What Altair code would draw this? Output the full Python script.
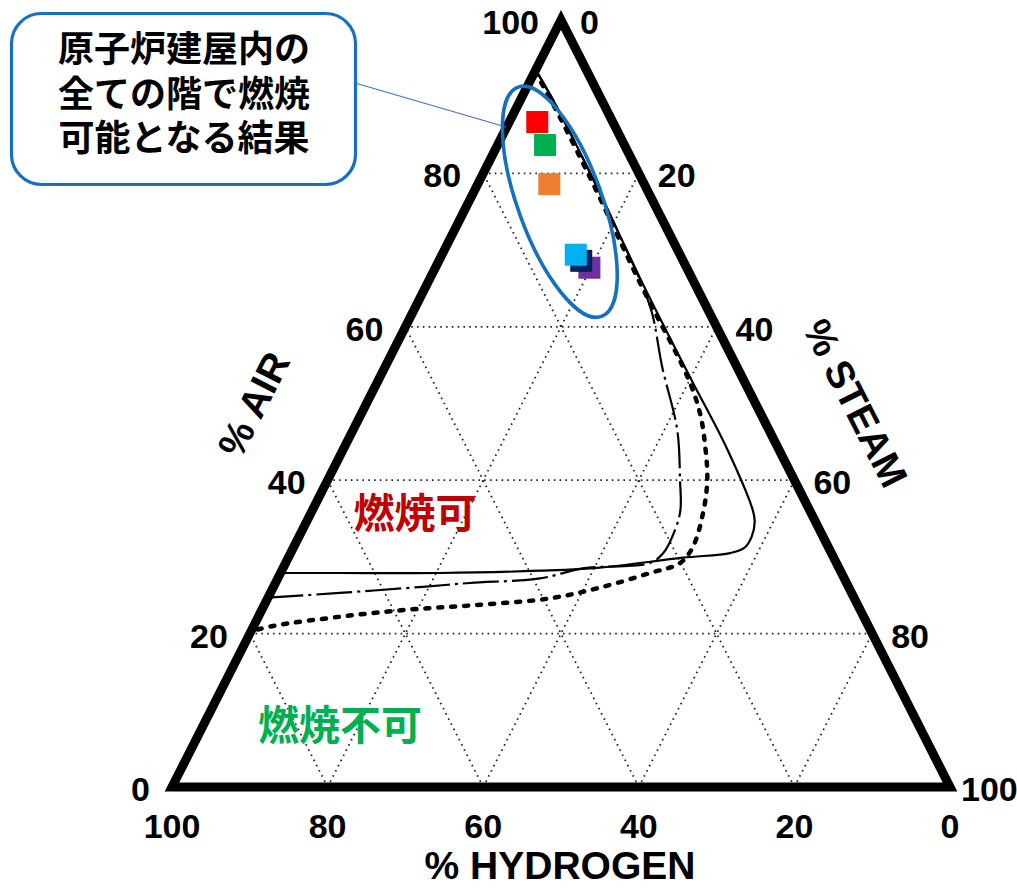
import altair as alt
import pandas as pd

# ---------------- values ----------------
# tick percentages on each side of the ternary diagram
tick_values = [0, 20, 40, 60, 80, 100]
grid_values = [20, 40, 60, 80]

# flammability boundaries as (hydrogen %, air %); steam = 100 - hydrogen - air
solid_h = [6.5, 6.2, 6.2, 6.3, 6.5, 6.7, 6.7, 6.6, 7.3, 7.8, 9.2, 10.8, 13.0, 19.4, 30.7, 38.6, 51.6, 64.5, 72.1]
solid_a = [93.5, 88.7, 82.0, 76.9, 71.7, 64.8, 53.5, 44.3, 36.1, 34.6, 32.6, 31.2, 30.5, 29.9, 28.6, 28.2, 27.9, 27.9, 27.9]

dashdot_h = [6.5, 6.2, 6.2, 6.3, 6.5, 6.8, 7.4, 9.6, 11.8, 14.7, 16.6, 18.6, 21.6, 24.0, 32.9, 39.1, 48.4, 54.7, 65.8, 75.3]
dashdot_a = [93.5, 88.7, 82.0, 76.9, 71.7, 66.1, 61.8, 54.8, 46.5, 40.0, 36.1, 33.5, 30.5, 29.2, 28.5, 27.2, 26.6, 26.1, 25.3, 24.7]

dashed_h = [6.7, 6.5, 6.5, 6.6, 6.8, 7.0, 7.0, 7.75, 9.3, 11.2, 13.9, 17.4, 20.1, 24.6, 32.0, 39.1, 49.4, 58.3, 67.3, 76.5, 79.7]
dashed_a = [93.3, 88.7, 82.0, 76.9, 71.7, 64.8, 53.5, 48.8, 44.3, 40.0, 35.7, 31.3, 29.2, 27.9, 26.0, 24.6, 23.7, 23.1, 22.2, 21.0, 20.3]

# compositions evaluated for each floor (drawn in this order)
point_keys = ["a", "b", "c", "d", "e", "f"]
point_h = [9.7, 10.2, 12.2, 12.5, 13.1, 13.4]
point_a = [86.7, 83.7, 78.6, 67.7, 68.6, 69.4]
point_colors = ["#FF0000", "#00B050", "#ED7D31", "#7030A0", "#002060", "#00B0F0"]

# centre of the highlighted group
group_h = [12.0]
group_a = [76.3]

callout_lines = ["原子炉建屋内の", "全ての階で燃焼", "可能となる結果"]

# ---------------- helpers ----------------
LATIN = "Liberation Sans"
CJK = "Noto Sans CJK JP"
BLUE = "#1570C2"


def to_uv(h, a):
    """Ternary (hydrogen, air, steam) -> cartesian (u along base, v = air)."""
    s = 100 - h - a
    return s + a / 2.0, a


XS = alt.Scale(domain=[-22.108, 108.612], nice=False, zero=False)
YS = alt.Scale(domain=[-13.299, 102.608], nice=False, zero=False)


def X(f):
    return alt.X(f, type="quantitative", scale=XS, axis=None)


def Y(f):
    return alt.Y(f, type="quantitative", scale=YS, axis=None)


def curve_df(hs, as_):
    rows = []
    for i, (h, a) in enumerate(zip(hs, as_)):
        u, v = to_uv(h, a)
        rows.append({"i": i, "u": u, "v": v})
    return pd.DataFrame(rows)


one = pd.DataFrame({"k": [0]})

# ---------------- grid ----------------
grid_rows = []
for k in grid_values:
    # constant air
    grid_rows.append((to_uv(100 - k, k), to_uv(0, k)))
    # constant hydrogen
    grid_rows.append((to_uv(k, 0), to_uv(k, 100 - k)))
    # constant steam
    grid_rows.append((to_uv(100 - k, 0), to_uv(0, 100 - k)))
grid_df = pd.DataFrame(
    [{"u0": p[0], "v0": p[1], "u1": q[0], "v1": q[1]} for p, q in grid_rows]
)
grid = alt.Chart(grid_df).mark_rule(
    color="#222222", strokeWidth=1.8, strokeDash=[1.6, 4.2], strokeCap="butt"
).encode(x=X("u0"), y=Y("v0"), x2="u1", y2="v1")

# ---------------- triangle frame ----------------
frame_h = [100, 0, 0, 100, 0]
frame_a = [0, 0, 100, 0, 0]
frame = alt.Chart(curve_df(frame_h, frame_a)).mark_line(
    color="black", strokeWidth=9, strokeJoin="miter", strokeMiterLimit=10
).encode(x=X("u"), y=Y("v"), order="i:Q")

# ---------------- boundary curves ----------------
solid = alt.Chart(curve_df(solid_h, solid_a)).mark_line(
    color="black", strokeWidth=2.2, interpolate="catmull-rom"
).encode(x=X("u"), y=Y("v"), order="i:Q")

dashdot = alt.Chart(curve_df(dashdot_h, dashdot_a)).mark_line(
    color="black", strokeWidth=2.2, interpolate="catmull-rom",
    strokeDash=[36, 5, 3, 5]
).encode(x=X("u"), y=Y("v"), order="i:Q")

dashed = alt.Chart(curve_df(dashed_h, dashed_a)).mark_line(
    color="black", strokeWidth=4.5, interpolate="catmull-rom",
    strokeDash=[4, 9], strokeCap="round"
).encode(x=X("u"), y=Y("v"), order="i:Q")

# ---------------- tick labels ----------------
air_df = pd.DataFrame(
    [{"u": to_uv(100 - a, a)[0], "v": a, "t": str(a)} for a in tick_values]
)
steam_df = pd.DataFrame(
    [{"u": to_uv(0, 100 - s)[0], "v": 100 - s, "t": str(s)} for s in tick_values]
)
h2_df = pd.DataFrame(
    [{"u": to_uv(h, 0)[0], "v": 0, "t": str(h)} for h in tick_values]
)

tick_style = dict(font=LATIN, fontSize=34, fontWeight="bold", color="black", baseline="middle")
air_ticks = alt.Chart(air_df).mark_text(align="right", dx=-22, dy=4, **tick_style).encode(
    x=X("u"), y=Y("v"), text="t:N")
# the bottom-right corner label sits closer to the frame so it stays on the canvas
steam_ticks = alt.Chart(steam_df[steam_df["t"] != "100"]).mark_text(
    align="left", dx=19, dy=4, **tick_style).encode(x=X("u"), y=Y("v"), text="t:N")
steam_corner = alt.Chart(steam_df[steam_df["t"] == "100"]).mark_text(
    align="left", dx=11, dy=4, **tick_style).encode(x=X("u"), y=Y("v"), text="t:N")
h2_ticks = alt.Chart(h2_df).mark_text(align="center", dy=41, **tick_style).encode(
    x=X("u"), y=Y("v"), text="t:N")


def label(text, x, y, size, color="black", angle=0, font=LATIN):
    return alt.Chart(one).mark_text(
        text=text, font=font, fontSize=size, fontWeight="bold", color=color,
        angle=angle, align="center", baseline="middle"
    ).encode(x=alt.value(x), y=alt.value(y))


title_h2 = label("% HYDROGEN", 560, 867, 39)
title_air = label("% AIR", 255, 405, 39, angle=297)
title_steam = label("% STEAM", 854, 404, 39, angle=63)

burn = label("燃焼可", 415, 516, 41, color="#C00000", font=CJK)
noburn = label("燃焼不可", 340, 728, 41, color="#00B050", font=CJK)

# ---------------- callout ----------------
leader = alt.Chart(one).mark_rule(color="#4472C4", strokeWidth=1.2).encode(
    x=alt.value(355), y=alt.value(83), x2=alt.value(506), y2=alt.value(127))
box = alt.Chart(one).mark_rect(
    cornerRadius=30, fill="white", stroke=BLUE, strokeWidth=3.2
).encode(x=alt.value(11.5), x2=alt.value(355.5), y=alt.value(13.5), y2=alt.value(184.5))
callout = alt.Chart(one).mark_text(
    text=callout_lines, font=CJK, fontSize=36, fontWeight="bold", color="black",
    align="center", baseline="middle", lineHeight=44.5
).encode(x=alt.value(184), y=alt.value(51))

# ---------------- highlighted group ----------------
ELLIPSE = "M -0.344 0 A 0.344 1 0 1 0 0.344 0 A 0.344 1 0 1 0 -0.344 0 Z"
g_df = pd.DataFrame([{"u": to_uv(h, a)[0], "v": a} for h, a in zip(group_h, group_a)])
ring = alt.Chart(g_df).mark_point(
    shape=ELLIPSE, size=59536, angle=340, filled=False, stroke=BLUE,
    strokeWidth=3.6, opacity=1
).encode(x=X("u"), y=Y("v"))

p_df = pd.DataFrame(
    [{"k": k, "u": to_uv(h, a)[0], "v": a} for k, h, a in zip(point_keys, point_h, point_a)]
)
squares = alt.Chart(p_df).mark_square(size=484, opacity=1, filled=True).encode(
    x=X("u"), y=Y("v"),
    color=alt.Color("k:N", scale=alt.Scale(domain=point_keys, range=point_colors), legend=None),
)

chart = alt.layer(
    grid, solid, dashdot, dashed, frame,
    air_ticks, steam_ticks, steam_corner, h2_ticks, title_h2, title_air, title_steam,
    burn, noburn, leader, box, callout, ring, squares,
).properties(
    width=1017, height=889, padding=0,
    autosize=alt.AutoSizeParams(type="none"), background="white",
).configure_view(stroke=None)

chart.save("out.html", embed_options={"renderer": "svg", "actions": False})
